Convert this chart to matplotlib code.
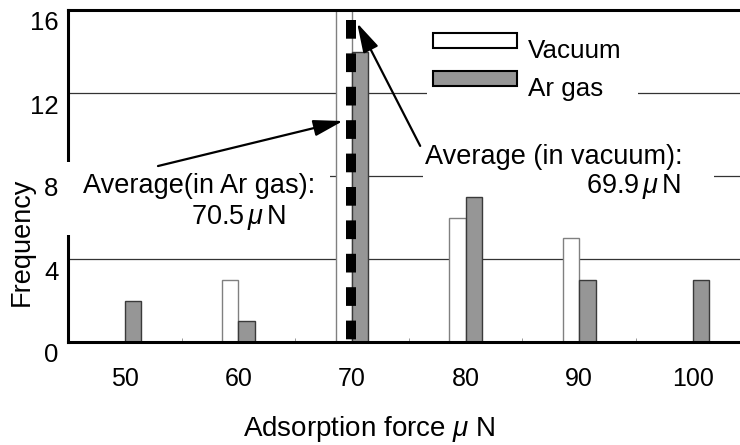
import numpy as np
import matplotlib
matplotlib.use('Agg')
from matplotlib import pyplot as plt
from matplotlib.patches import Rectangle, Patch
from matplotlib.legend_handler import HandlerPatch
from matplotlib.transforms import ScaledTranslation

plt.rcParams['font.family'] = ['Liberation Sans', 'DejaVu Sans']
plt.rcParams['mathtext.fontset'] = 'custom'
plt.rcParams['mathtext.rm'] = 'Liberation Sans'
plt.rcParams['mathtext.it'] = 'Liberation Sans:italic'

forces = [50, 60, 70, 80, 90, 100]
vacuum = [0, 3, 16, 6, 5, 0]
ar_gas = [2, 1, 14, 7, 3, 3]
avg_vacuum = 69.9
avg_ar = 70.5
yticks = [0, 4, 8, 12, 16]

GREY = '#969696'
x = np.arange(len(forces))
w = 0.145


def to_x(force):
    # force value -> position on the category axis
    return (force - forces[0]) / (forces[1] - forces[0])


def raised_patch(legend, orig_handle, xdescent, ydescent, width, height, fontsize):
    # legend swatch sits a little above the label baseline
    return Rectangle((-xdescent, -ydescent + 6), width, height)


fig = plt.figure(figsize=(7.4, 4.45), dpi=100)
ax = fig.add_axes([68 / 740, 1 - 342 / 445, 672 / 740, 332 / 445])

ax.bar(x - w / 2, vacuum, w, color='white', edgecolor='#808080', lw=1, zorder=2)
ax.bar(x + w / 2, ar_gas, w, color=GREY, edgecolor='#3a3a3a', lw=1, zorder=2)

# average line (thick dashed)
line_x = to_x(avg_vacuum)
ax.plot([line_x, line_x], [15.5, 0], color='black', lw=7.2, dashes=(1.87, 1.47),
        dash_capstyle='butt', zorder=4)

ax.set_xlim(-0.5, 5.415)
ax.set_ylim(0, 16)
ax.set_xticks(x, [str(f) for f in forces])
ax.set_xticks(x[:-1] + 0.5, minor=True)
ax.tick_params(axis='x', which='major', length=0, pad=18, labelsize=18)
ax.tick_params(axis='x', which='minor', direction='in', length=3, color='#888888')
ax.set_yticks(yticks)
ax.tick_params(axis='y', length=0, pad=7, labelsize=18.5)
for lab in ax.get_yticklabels():
    lab.set_transform(lab.get_transform() + ScaledTranslation(0, -0.11, fig.dpi_scale_trans))

ax.yaxis.grid(True, color='#333333', lw=0.9)
ax.set_axisbelow(True)
for s in ['left', 'bottom', 'top']:
    ax.spines[s].set_linewidth(2.2)
ax.spines['right'].set_visible(False)

ax.set_ylabel('Frequency', fontsize=19.5)
ax.yaxis.set_label_coords(-0.049, 0.301)
ax.set_xlabel(r'Adsorption force $\mu$ N', fontsize=20)
ax.xaxis.set_label_coords(0.448, -0.216)

# white backgrounds behind the notes and legend
ax.add_patch(Rectangle((-0.553, 5.16), 2.36, 3.51, fc='white', ec='none', zorder=3, clip_on=False))
ax.add_patch(Rectangle((2.625, 7.1), 2.56, 2.65, fc='white', ec='none', zorder=3))
ax.add_patch(Rectangle((2.66, 11.75), 1.86, 0.6, fc='white', ec='none', zorder=3))

ax.text(-0.368, 7.52, 'Average(in Ar gas):', fontsize=19.5, ha='left', va='center', zorder=5)
ax.text(1.0, 6.0, f'{avg_ar}$\\,\\mu\\,$N', fontsize=19.5, ha='center', va='center', zorder=5)
ax.text(2.643, 8.92, 'Average (in vacuum):', fontsize=19.5, ha='left', va='center', zorder=5)
ax.text(4.48, 7.47, f'{avg_vacuum}$\\,\\mu\\,$N', fontsize=19.5, ha='center', va='center', zorder=5)

arrow = dict(arrowstyle='-|>,head_length=1.8,head_width=0.5', color='black', lw=1.6,
             shrinkA=0, shrinkB=0, mutation_scale=10)
ax.annotate('', xy=(line_x - 0.07, 10.65), xytext=(0.292, 8.48), arrowprops=arrow, zorder=6)
ax.annotate('', xy=(line_x + 0.055, 15.37), xytext=(2.6, 9.45), arrowprops=arrow, zorder=6)

handles = [Patch(fc='white', ec='black', lw=1.5), Patch(fc=GREY, ec='black', lw=1.5)]
ax.legend(handles, ['Vacuum', 'Ar gas'], loc='upper left', bbox_to_anchor=(0.543, 0.913),
          frameon=False, fontsize=18.7, handlelength=3.23, handleheight=0.54,
          handletextpad=0.42, labelspacing=0.54, borderpad=0, borderaxespad=0,
          handler_map={Patch: HandlerPatch(patch_func=raised_patch)})

fig.savefig('out.png', dpi=100)
